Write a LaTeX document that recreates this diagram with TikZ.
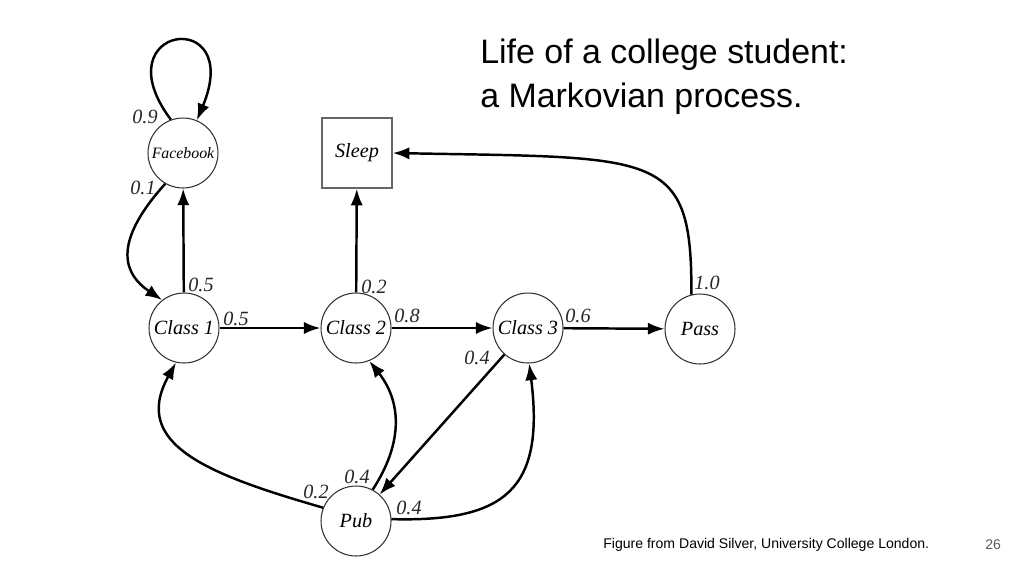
\documentclass[tikz,border=0pt]{standalone}
\usepackage{fontspec}
\setmainfont{Liberation Serif}
\newfontfamily\slidefont{Liberation Sans}
\usetikzlibrary{arrows.meta}

\tikzset{   state/.style={draw=black!80,circle,fill=white,minimum size=1.4cm,inner sep=0pt,line width=0.6pt,font=\itshape\fontsize{11.5}{13}\selectfont},
            sink/.style={draw=black!60,rectangle,fill=white,minimum size=1.4cm,inner sep=0pt,line width=0.8pt,font=\itshape\fontsize{11.5}{13}\selectfont},
            prob/.style={font=\itshape\fontsize{11.5}{13}\selectfont,text=black!85,inner sep=0pt},
            move/.style={line width=1.4pt,-{Latex[length=9.5pt,width=7pt]}},
}

\begin{document}
\begin{tikzpicture}[x=0.02cm,y=-0.02cm]
    \useasboundingbox (0,0) rectangle (1024,576);

    \node[state] (fb) at (183,153) {\fontsize{9}{11}\selectfont Facebook}; % states
    \node[sink] (sleep) at (357,153) {Sleep};
    \node[state] (c1) at (184,328) {Class 1};
    \node[state] (c2) at (356,328) {Class 2};
    \node[state] (c3) at (528,328) {Class 3};
    \node[state] (pass) at (700,329) {Pass};
    \node[state] (pub) at (356,521) {Pub};

    \draw[move] (fb.110) .. controls (100,25) and (245,5) .. (fb.67); % transitions
    \draw[move] (fb.240) .. controls (110,245) and (125,275) .. (c1.128);
    \draw[move] (c1) -- (fb);
    \draw[move] (c1) -- (c2);
    \draw[move] (c2) -- (sleep);
    \draw[move] (c2) -- (c3);
    \draw[move] (c3) -- (pass);
    \draw[move] (pass.104) .. controls (692,150) and (660,158) .. (sleep.east);
    \draw[move] (c3) -- (pub);
    \draw[move] (pub.158) .. controls (210,475) and (130,445) .. (c1.257);
    \draw[move] (pub.62) .. controls (405,440) and (400,400) .. (c2.292);
    \draw[move] (pub.3) .. controls (505,522) and (545,490) .. (c3.272);

    \node[prob] (p91) at (145,117) {0.9}; % probabilities
    \node[prob] (p12) at (143,188) {0.1};
    \node[prob] (p51) at (201,285) {0.5};
    \node[prob] (p52) at (236,319) {0.5};
    \node[prob] (p23) at (374,287) {0.2};
    \node[prob] (p84) at (407,316) {0.8};
    \node[prob] (p65) at (578,316) {0.6};
    \node[prob] (p16) at (707,283) {1.0};
    \node[prob] (p47) at (477,358) {0.4};
    \node[prob] (p28) at (316,492) {0.2};
    \node[prob] (p49) at (357,477) {0.4};
    \node[prob] (p40) at (409,508) {0.4};

    \node[anchor=base west,inner sep=0pt,font=\slidefont\fontsize{19.3}{25}\selectfont] (title1) at (480,63) {Life of a college student:};
    \node[anchor=base west,inner sep=0pt,font=\slidefont\fontsize{19.3}{25}\selectfont] (title2) at (480,107) {a Markovian process.};
    \node[anchor=base west,inner sep=0pt,font=\slidefont\fontsize{8}{10}\selectfont] (credit) at (603,548) {Figure from David Silver, University College London.};
    \node[anchor=base west,inner sep=0pt,text=black!65,font=\slidefont\fontsize{8}{10}\selectfont] (page) at (985,549) {26};
\end{tikzpicture}
\end{document}
